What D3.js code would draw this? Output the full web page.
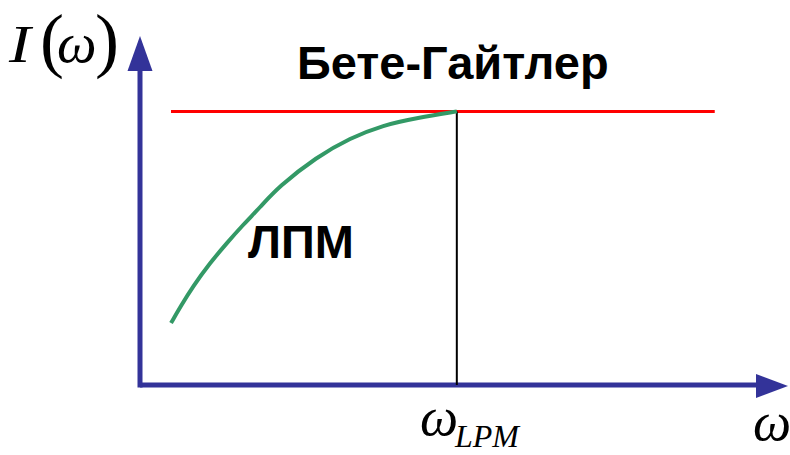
<!DOCTYPE html>
<html><head><meta charset="utf-8">
<script src="https://cdn.jsdelivr.net/npm/d3@7/dist/d3.min.js"></script>
<style>html,body{margin:0;padding:0;background:#fff;}svg{display:block;}</style>
</head><body>
<svg id="chart" width="790" height="455"></svg>
<script>
// data (arbitrary units)
const curveOmega = [0.50, 0.65, 0.85, 1.13, 1.40, 1.66, 1.94, 2.23, 2.85, 3.39, 3.92, 4.47, 5.11];
const curveI     = [1.81, 2.28, 2.87, 3.57, 4.15, 4.68, 5.20, 5.79, 6.67, 7.22, 7.60, 7.81, 8.00];
const bhLevel = 8.0;
const bhRange = [0.5, 9.27];
const omegaLPM = 5.11;
const labels = {bh: "Бете-Гайтлер", lpm: "ЛПМ"};

const svg = d3.select("#chart");
const x = d3.scaleLinear().domain([0, 10]).range([140, 760]);
const y = d3.scaleLinear().domain([0, 10]).range([385, 43]);
const axisColor = "#333399";

// axes
svg.append("line").attr("x1", x(0)).attr("x2", 757).attr("y1", y(0)).attr("y2", y(0))
  .attr("stroke", axisColor).attr("stroke-width", 5);
svg.append("path").attr("d", `M788,${y(0)+1} L756,${y(0)-11} L756,${y(0)+13} Z`).attr("fill", axisColor);
svg.append("line").attr("x1", x(0)).attr("x2", x(0)).attr("y1", y(0)+2.5).attr("y2", 70)
  .attr("stroke", axisColor).attr("stroke-width", 5);
svg.append("path").attr("d", `M${x(0)},36 L${x(0)-12.5},71 L${x(0)+12.5},71 Z`).attr("fill", axisColor);

// Bethe-Heitler line
svg.append("line").attr("x1", x(bhRange[0])).attr("x2", x(bhRange[1]))
  .attr("y1", y(bhLevel)).attr("y2", y(bhLevel)).attr("stroke", "#ff0000").attr("stroke-width", 3);

// omega_LPM vertical
svg.append("line").attr("x1", x(omegaLPM)).attr("x2", x(omegaLPM))
  .attr("y1", y(bhLevel)).attr("y2", y(0)).attr("stroke", "#000").attr("stroke-width", 2);

// LPM curve
const pts = curveOmega.map((w, i) => [w, curveI[i]]);
svg.append("path").datum(pts)
  .attr("d", d3.line().x(d => x(d[0])).y(d => y(d[1])).curve(d3.curveBasis))
  .attr("fill", "none").attr("stroke", "#339966").attr("stroke-width", 4);

// texts
svg.append("text").attr("x", 297).attr("y", 79).text(labels.bh)
  .attr("font-family", "Liberation Sans, Arial, sans-serif").attr("font-weight", "bold").attr("font-size", 47).attr("fill", "#000");
svg.append("text").attr("x", 248).attr("y", 258).text(labels.lpm)
  .attr("font-family", "Liberation Sans, Arial, sans-serif").attr("font-weight", "bold").attr("font-size", 47).attr("fill", "#000");

const serif = "Liberation Serif, Times New Roman, serif";
const g = svg.append("g").attr("font-family", serif).attr("fill", "#000");
g.append("text").attr("transform", "translate(9,62) scale(1.25,1)").attr("font-style", "italic").attr("font-size", 52).text("I");
g.append("text").attr("x", 40).attr("y", 64).attr("font-size", 72).text("(");
g.append("text").attr("x", 57).attr("y", 62).attr("font-style", "italic").attr("font-size", 56).text("ω");
g.append("text").attr("x", 95).attr("y", 64).attr("font-size", 72).text(")");

g.append("text").attr("x", 753).attr("y", 440).attr("font-style", "italic")
  .attr("font-size", 54).text("ω");

g.append("text").attr("x", 420).attr("y", 435).attr("font-style", "italic").attr("font-size", 54).text("ω");
g.append("text").attr("x", 455).attr("y", 447).attr("font-style", "italic").attr("font-size", 32).text("LPM");
</script>
</body></html>
